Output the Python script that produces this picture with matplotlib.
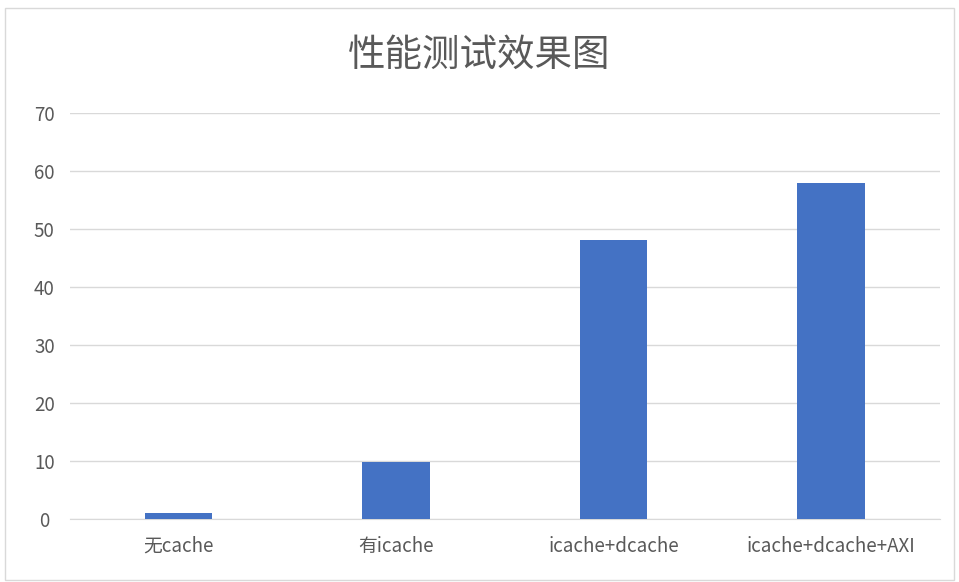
import matplotlib
matplotlib.use('Agg')
from matplotlib import pyplot as plt
from matplotlib.patches import Rectangle

plt.rcParams['font.family'] = ['Noto Sans CJK SC', 'DejaVu Sans']

categories = ['无cache', '有icache', 'icache+dcache', 'icache+dcache+AXI']
values = [1.1, 9.8, 48.1, 58.0]
yticks = [0, 10, 20, 30, 40, 50, 60, 70]

fig = plt.figure(figsize=(9.59, 5.82), dpi=100)
ax = fig.add_axes([0.073, 0.108, 0.907, 0.698])

# chart frame like excel
fig.patches.append(Rectangle((0.005, 0.003), 0.99, 0.983, transform=fig.transFigure,
                             fill=False, edgecolor='#d9d9d9', linewidth=1))

ax.bar(range(len(categories)), values, width=0.31, color='#4472C4', zorder=3)

ax.set_xlim(-0.5, len(categories) - 0.5)
ax.set_ylim(0, 70)
ax.set_yticks(yticks)
ax.set_xticks(range(len(categories)))
ax.set_xticklabels(categories)
ax.grid(axis='y', color='#d9d9d9', linewidth=1, zorder=0)
for s in ['top', 'right', 'left']:
    ax.spines[s].set_visible(False)
ax.spines['bottom'].set_color('#d9d9d9')
ax.tick_params(axis='both', length=0, colors='#595959', labelsize=13.5)
ax.tick_params(axis='x', pad=12)
ax.tick_params(axis='y', pad=18.5)
for lbl in ax.get_yticklabels():
    lbl.set_horizontalalignment('center')

fig.text(0.5, 0.905, '性能测试效果图', ha='center', va='center',
         fontsize=27, color='#595959', fontweight='light')

plt.savefig('out.png', dpi=100)
